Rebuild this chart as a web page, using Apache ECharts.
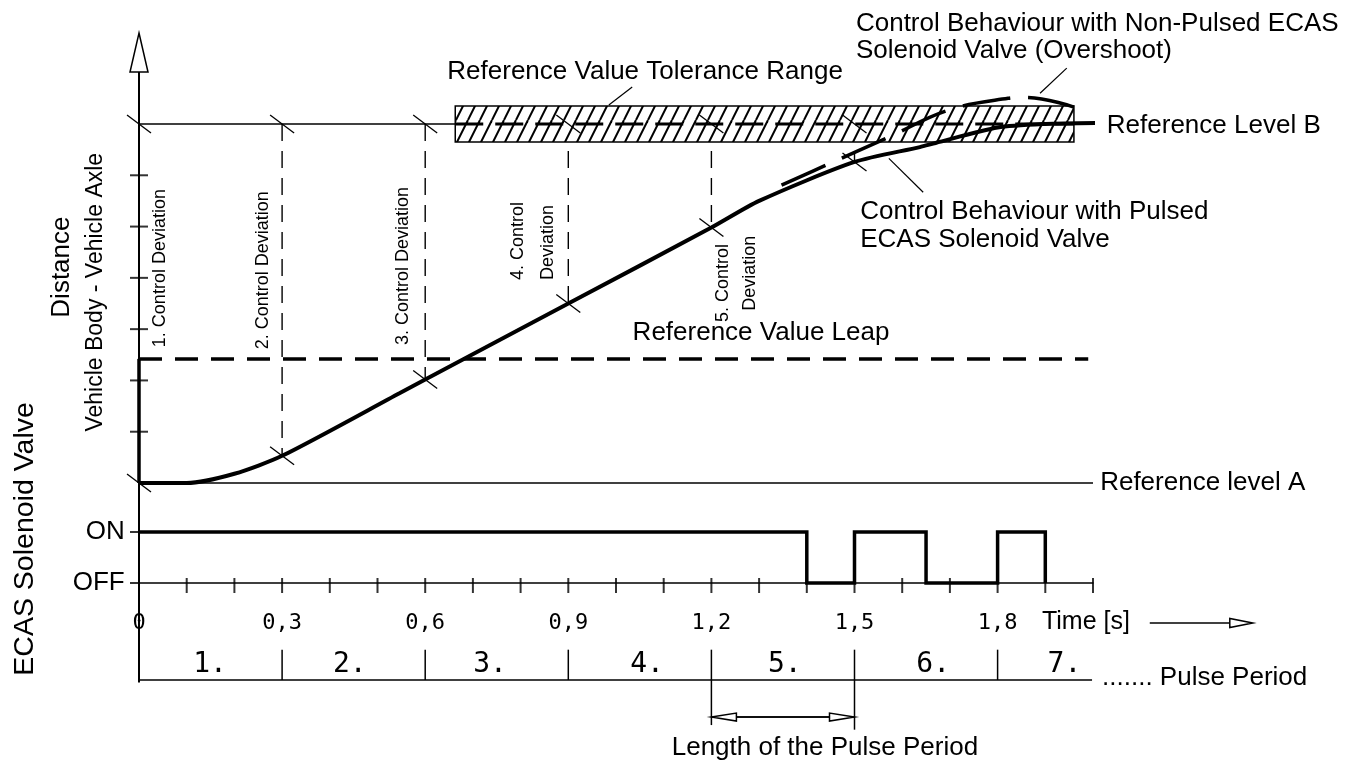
<!DOCTYPE html>
<html><head><meta charset="utf-8">
<script src="https://cdn.jsdelivr.net/npm/echarts@6/dist/echarts.min.js"></script>
<style>html,body{margin:0;padding:0;background:#fff}#c{width:1363px;height:760px}</style>
</head><body><div id="c"></div>
<script>
// ---------------- DATA ----------------
// time in seconds; level in units where Reference level A = 0 and Reference Level B = 7
const timeTickValues = [0, 0.3, 0.6, 0.9, 1.2, 1.5, 1.8];
const timeTickLabels = ['0', '0,3', '0,6', '0,9', '1,2', '1,5', '1,8'];
const minorTimeTicks = [0.1,0.2,0.3,0.4,0.5,0.6,0.7,0.8,0.9,1.0,1.1,1.2,1.3,1.4,1.5,1.6,1.7,1.8,1.9,2.0];
const levelTicks = [1, 2, 3, 4, 5, 6];
const levelA = 0;
const levelB = 7;
const leapValue = 2.42;
const toleranceRange = [[0.663, 1.96, 6.65, 7.35]];     // t start, t end, low, high
const pulsedCurve = [[0,0],[0.1,0],[0.2,0.18],[0.3,0.53],[0.547,1.755],[0.6,2.02],[0.9,3.5],[1.2,4.98],[1.3,5.5],[1.5,6.26],[1.637,6.55],[1.67,6.63],[1.8,6.93],[1.9,7.0],[2.01,7.02]];
const overshootCurve = [[1.347,5.81],[1.441,6.2],[1.571,6.74],[1.697,7.27],[1.822,7.5],[1.858,7.52],[1.96,7.33]];
const valveSwitch = [[0,1],[1.4,0],[1.5,1],[1.65,0],[1.8,1],[1.9,0]];   // step: 1 = ON, 0 = OFF
const deviationTimes = [0.3, 0.6, 0.9, 1.2, 1.5];
const deviationCurveValues = [0.53, 2.02, 3.5, 4.98, 6.26];
const periodBoundaries = [0.3, 0.6, 0.9, 1.2, 1.5, 1.8];
const periodLabels = ['1.', '2.', '3.', '4.', '5.', '6.', '7.'];
const periodLabelTimes = [0.149, 0.442, 0.736, 1.065, 1.354, 1.665, 1.94];
const pulseLengthSpan = [1.2, 1.5];
const deviationLabels = [['1. Control Deviation'], ['2. Control Deviation'], ['3. Control Deviation'], ['4. Control', 'Deviation'], ['5. Control', 'Deviation']];
const texts = {
  tolerance: 'Reference Value Tolerance Range',
  overshoot1: 'Control Behaviour with Non-Pulsed ECAS',
  overshoot2: 'Solenoid Valve (Overshoot)',
  pulsed1: 'Control Behaviour with Pulsed',
  pulsed2: 'ECAS Solenoid Valve',
  levelB: 'Reference Level B',
  levelA: 'Reference level A',
  leap: 'Reference Value Leap',
  distance: 'Distance',
  body: 'Vehicle Body - Vehicle Axle',
  valve: 'ECAS Solenoid Valve',
  on: 'ON', off: 'OFF',
  time: 'Time [s]',
  period: '....... Pulse Period',
  length: 'Length of the Pulse Period'
};

// ---------------- LAYOUT ----------------
const L = { left: 139, pxPerS: 477, y0: 483, unit: 51.286, valveOff: 583, valveUnit: 51 };
const V_MIN = -5, V_MAX = 9;
const gridTop = L.y0 - V_MAX * L.unit;
const gridH = (V_MAX - V_MIN) * L.unit;
const valveMax = (L.valveOff - gridTop) / L.valveUnit;
const valveMin = (L.valveOff - (gridTop + gridH)) / L.valveUnit;
const FONT = "'Liberation Sans', Arial, Helvetica, sans-serif";
const TECH = "'DejaVu Sans Mono', monospace";

const axisBottom = -3.89, axisArrowTip = 8.774;
const periodLineV = -3.84, periodSepTop = -3.25, lengthArrowV = -4.563;
const timeArrowV = -2.73, tickLabelValve = -0.784;

function seg(points, width, type, yAxisIndex, z) {
  return { type: 'line', data: points, symbol: 'none', silent: true, clip: false, animation: false,
    xAxisIndex: 0, yAxisIndex: yAxisIndex || 0, z: z || 3,
    lineStyle: { color: '#000', width: width, type: type || 'solid', cap: 'butt', join: 'miter' } };
}

function hatchCanvas() {
  const c = document.createElement('canvas'); c.width = 12; c.height = 24;
  const g = c.getContext('2d');
  g.fillStyle = '#fff'; g.fillRect(0, 0, 12, 24);
  g.strokeStyle = '#000'; g.lineWidth = 2;
  [-12, 0, 12].forEach(o => { g.beginPath(); g.moveTo(o, 24); g.lineTo(o + 12, 0); g.stroke(); });
  return c;
}
const hatch = hatchCanvas();

const series = [];

// reference levels (thin)
series.push(seg([[-0.017, levelA], [2.0, levelA]], 1.5));
series.push(seg([[-0.017, levelB], [toleranceRange[0][0], levelB]], 1.5));
// deviation verticals
deviationTimes.forEach((t, i) => series.push(seg([[t, levelB], [t, deviationCurveValues[i]]], 1.4, [17, 10], 0, 2)));
// tolerance box with dashed level B inside
series.push({ type: 'custom', coordinateSystem: 'cartesian2d', data: toleranceRange, clip: false, silent: true, z: 4,
  encode: { x: [0, 1], y: [2, 3] },
  renderItem: (p, api) => {
    const a = api.coord([api.value(0), api.value(3)]);
    const b = api.coord([api.value(1), api.value(2)]);
    const m = api.coord([api.value(0), levelB]);
    return { type: 'group', children: [
      { type: 'rect', shape: { x: a[0], y: a[1], width: b[0] - a[0], height: b[1] - a[1] },
        style: { fill: { image: hatch, repeat: 'repeat' }, stroke: '#000', lineWidth: 1.5 } },
      { type: 'line', shape: { x1: a[0], y1: m[1], x2: b[0], y2: m[1] },
        style: { stroke: '#000', lineWidth: 3, lineDash: [28, 12] } }
    ] };
  } });
// reference value leap
series.push(seg([[0, levelA], [0, leapValue]], 3.5, 'solid', 0, 4));
series.push(seg([[0, leapValue], [1.99, leapValue]], 3.5, [23, 13], 0, 4));
// curves
series.push({ type: 'line', data: pulsedCurve, symbol: 'none', smooth: 0.25, silent: true, clip: false, z: 6,
  lineStyle: { color: '#000', width: 4 } });
series.push({ type: 'line', data: overshootCurve, symbol: 'none', smooth: 0.4, silent: true, clip: false, z: 6,
  lineStyle: { color: '#000', width: 3.5, type: [48, 18], cap: 'butt' } });
// slash marks
const slashPoints = [];
[0, 0.3, 0.6, 0.9, 1.2, 1.5].forEach(t => slashPoints.push([t, levelB]));
slashPoints.push([0, levelA]);
deviationTimes.forEach((t, i) => slashPoints.push([t, deviationCurveValues[i]]));
series.push({ type: 'custom', coordinateSystem: 'cartesian2d', data: slashPoints, clip: false, silent: true, z: 7,
  encode: { x: 0, y: 1 },
  renderItem: (p, api) => {
    const c = api.coord([api.value(0), api.value(1)]);
    return { type: 'line', shape: { x1: c[0] - 12, y1: c[1] - 9, x2: c[0] + 12, y2: c[1] + 9 },
      style: { stroke: '#000', lineWidth: 1.3 } };
  } });
// level ticks
series.push({ type: 'scatter', data: levelTicks.map(v => [0, v]), symbol: 'rect', symbolSize: [18, 2], silent: true, clip: false, z: 5,
  itemStyle: { color: '#000' } });
// valve signal
series.push({ type: 'line', data: valveSwitch, yAxisIndex: 1, step: 'end', symbol: 'none', silent: true, clip: false, z: 6,
  lineStyle: { color: '#000', width: 3.5, join: 'miter' } });
// time ticks on OFF line
series.push({ type: 'scatter', data: minorTimeTicks.map(t => [t, 0]), yAxisIndex: 1, symbol: 'rect', symbolSize: [2, 15], symbolOffset: [0, 2.5],
  silent: true, clip: false, z: 5, itemStyle: { color: '#000' } });
// ON/OFF ticks
series.push({ type: 'scatter', data: [[0, 1], [0, 0]], yAxisIndex: 1, symbol: 'rect', symbolSize: [9, 2], symbolOffset: [-4.5, 0],
  silent: true, clip: false, z: 5, itemStyle: { color: '#000' } });
// pulse period line and separators
series.push(seg([[-0.006, periodLineV], [1.998, periodLineV]], 1.5));
periodBoundaries.forEach(t => {
  let bottom = periodLineV;
  if (t === pulseLengthSpan[0]) bottom = -4.72;
  if (t === pulseLengthSpan[1]) bottom = -4.81;
  series.push(seg([[t, periodSepTop], [t, bottom]], 1.5));
});
// leaders
series.push(seg([[1.034, 7.72], [0.985, 7.37]], 1.2, 'solid', 0, 8));
series.push(seg([[1.945, 8.09], [1.889, 7.6]], 1.2, 'solid', 0, 8));
series.push(seg([[1.572, 6.33], [1.644, 5.67]], 1.2, 'solid', 0, 8));
// arrows: tip t, tip v, tail t, tail v
const arrows = [[0, axisArrowTip, 0, axisBottom], [2.335, timeArrowV, 2.119, timeArrowV],
  [pulseLengthSpan[0], lengthArrowV, pulseLengthSpan[1], lengthArrowV], [pulseLengthSpan[1], lengthArrowV, pulseLengthSpan[0], lengthArrowV]];
const arrowShape = [{ len: 39, half: 9, w: 2 }, { len: 23, half: 4.5, w: 1.5 }, { len: 25, half: 4, w: 1.5 }, { len: 25, half: 4, w: 1.5 }];
series.push({ type: 'custom', coordinateSystem: 'cartesian2d', data: arrows, clip: false, silent: true, z: 10,
  encode: { x: [0, 2], y: [1, 3] },
  renderItem: (p, api) => {
    const c = api.coord([api.value(0), api.value(1)]);
    const t = api.coord([api.value(2), api.value(3)]);
    const a = arrowShape[p.dataIndex];
    const d = Math.hypot(c[0] - t[0], c[1] - t[1]);
    const dx = (c[0] - t[0]) / d, dy = (c[1] - t[1]) / d;
    const bx = c[0] - dx * a.len, by = c[1] - dy * a.len;
    const nx = -dy, ny = dx;
    return { type: 'group', children: [
      { type: 'line', z2: 0, shape: { x1: t[0], y1: t[1], x2: bx, y2: by }, style: { stroke: '#000', lineWidth: a.w } },
      { type: 'polygon', z2: 5, shape: { points: [c, [bx + nx * a.half, by + ny * a.half], [bx - nx * a.half, by - ny * a.half]] },
        style: { fill: '#fff', stroke: '#000', lineWidth: 1.5 } }
    ] };
  } });

// text labels (drawn as text elements at data coordinates)
const mainTextSpecs = [
  { at: [1.061, 8.01], text: texts.tolerance, size: 26 },
  { at: [1.503, 8.95], text: texts.overshoot1, size: 26, align: 'left' },
  { at: [1.503, 8.42], text: texts.overshoot2, size: 26, align: 'left' },
  { at: [1.512, 5.28], text: texts.pulsed1, size: 26, align: 'left' },
  { at: [1.512, 4.74], text: texts.pulsed2, size: 26, align: 'left' },
  { at: [2.029, 6.96], text: texts.levelB, size: 26, align: 'left' },
  { at: [2.015, 0], text: texts.levelA, size: 26, align: 'left' },
  { at: [1.304, 2.92], text: texts.leap, size: 26 },
  { at: [-0.161, 4.21], text: texts.distance, size: 26, rotate: 90 },
  { at: [-0.09, 3.72], text: texts.body, size: 23, rotate: 90 },
  { at: [-0.239, -1.09], text: texts.valve, size: 28.5, rotate: 90 },
  { at: [1.893, -2.71], text: texts.time, size: 25, align: 'left' },
  { at: [2.019, -3.8], text: texts.period, size: 26, align: 'left' },
  { at: [1.438, -5.17], text: texts.length, size: 26 },
  { at: [0.044, 4.19], text: deviationLabels[0][0], size: 18, rotate: 90 },
  { at: [0.26, 4.15], text: deviationLabels[1][0], size: 18, rotate: 90 },
  { at: [0.553, 4.23], text: deviationLabels[2][0], size: 18, rotate: 90 },
  { at: [0.795, 4.72], text: deviationLabels[3][0], size: 18, rotate: 90 },
  { at: [0.857, 4.69], text: deviationLabels[3][1], size: 18, rotate: 90 },
  { at: [1.224, 3.9], text: deviationLabels[4][0], size: 18, rotate: 90 },
  { at: [1.281, 4.09], text: deviationLabels[4][1], size: 18, rotate: 90 }
];
periodLabels.forEach((s, i) => mainTextSpecs.push({ at: [periodLabelTimes[i], -3.55], text: s, size: 28, family: TECH }));
const valveTextSpecs = [
  { at: [-0.03, 1], text: texts.on, size: 26, align: 'right' },
  { at: [-0.03, 0], text: texts.off, size: 26, align: 'right' }
];
timeTickValues.forEach((t, i) => valveTextSpecs.push({ at: [t, tickLabelValve], text: timeTickLabels[i], size: 22, family: TECH }));

function textSeries(specs, yAxisIndex) {
  return { type: 'custom', coordinateSystem: 'cartesian2d', yAxisIndex: yAxisIndex, data: specs.map(s => s.at), clip: false, silent: true, z: 20,
    encode: { x: 0, y: 1 },
    renderItem: (p, api) => {
      const s = specs[p.dataIndex];
      const c = api.coord([api.value(0), api.value(1)]);
      return { type: 'text', x: c[0], y: c[1], rotation: (s.rotate || 0) * Math.PI / 180,
        style: { text: s.text, fontSize: s.size, fontFamily: s.family || FONT, fill: '#000',
          align: s.align || 'center', verticalAlign: 'middle' } };
    } };
}
series.push(textSeries(mainTextSpecs, 0));
series.push(textSeries(valveTextSpecs, 1));

series.forEach(s => { s.animation = false; if (s.xAxisIndex == null) s.xAxisIndex = 0; if (s.yAxisIndex == null) s.yAxisIndex = 0; });

const chart = echarts.init(document.getElementById('c'), null, { renderer: 'canvas' });
chart.setOption({
  animation: false,
  backgroundColor: '#fff',
  grid: { left: L.left, top: gridTop, width: 2.0 * L.pxPerS, height: gridH, containLabel: false, outerBoundsMode: 'none' },
  xAxis: [{ type: 'value', min: 0, max: 2.0, interval: 0.1,
    axisLine: { show: true, onZero: true, onZeroAxisIndex: 1, lineStyle: { color: '#000', width: 1.5 } },
    axisTick: { show: false }, splitLine: { show: false }, axisLabel: { show: false } }],
  yAxis: [
    { type: 'value', min: V_MIN, max: V_MAX, show: false },
    { type: 'value', min: valveMin, max: valveMax, show: false }
  ],
  series: series
});
</script></body></html>
